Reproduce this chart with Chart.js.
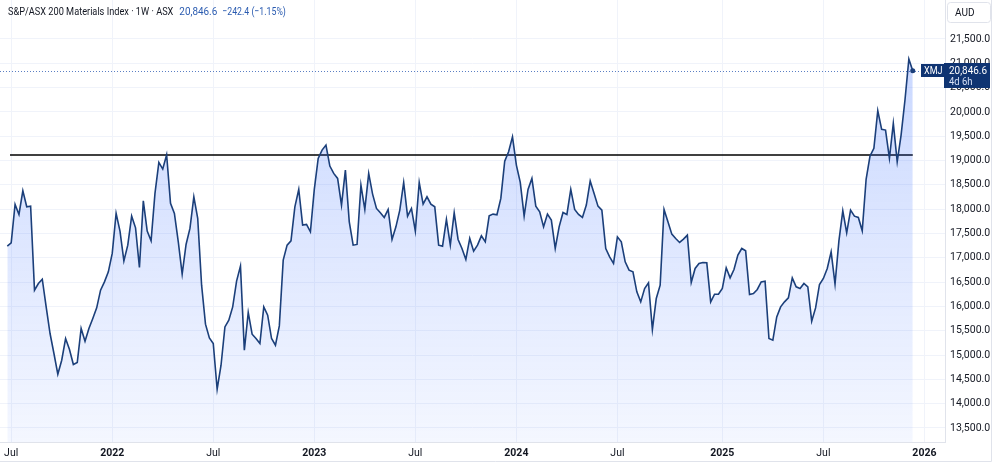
<!DOCTYPE html>
<html lang="en">

<head>
    <meta charset="UTF-8">
    <title>S&amp;P/ASX 200 Materials Index</title>
    <script src="https://cdn.jsdelivr.net/npm/chart.js@4.4.1/dist/chart.umd.min.js"></script>
    <style>
        body {
            margin: 0;
            background: #ffffff;
        }

        .chart-box {
            width: 1000px;
            height: 466px;
        }
    </style>
</head>

<body>
    <div class="chart-box">
        <canvas id="xmj-chart" width="1000" height="466"></canvas>
    </div>

    <script>
        // weekly closes, first week starts 2021-06-28
        const firstWeek = '2021-06-28';
        const closes = [
            17240, 17308, 18098, 17892, 18378, 18049, 18063, 16334, 16472, 16560,
            15990, 15443, 15032, 14606, 14894, 15340, 15114, 14805, 14846, 15546,
            15285, 15546, 15752, 15970, 16334, 16505, 16711, 17090, 17913, 17549,
            16937, 17260, 17857, 17617, 16801, 18172, 17549, 17349, 18324, 18962,
            18825, 19119, 18119, 17913, 17328, 16664, 17275, 17604, 18255, 17810,
            16437, 15635, 15353, 15237, 14297, 14791, 15579, 15717, 15991, 16520,
            16828, 15100, 15876, 15429, 15340, 15237, 15991, 15820, 15340, 15203,
            15600, 16952, 17260, 17349, 18049, 18407, 17672, 17686, 17535, 18407,
            19045, 19216, 19319, 18886, 18736, 18633, 18084, 18804, 17740, 17260,
            17275, 18495, 17995, 18736, 18310, 18015, 17926, 17830, 17995, 17377,
            17637, 17981, 18550, 17857, 18015, 17549, 18550, 18104, 18255, 18104,
            18049, 17260, 17240, 17789, 17260, 17926, 17377, 17192, 16966, 17398,
            17137, 17260, 17452, 17328, 17864, 17899, 17885, 18221, 18989, 19181,
            19489, 18907, 18551, 17857, 18407, 18633, 18063, 17946, 17637, 17899,
            17775, 17192, 17637, 17933, 17892, 18407, 17995, 17892, 17830, 18084,
            18578, 18324, 18063, 17981, 17192, 17020, 16884, 17431, 17328, 16917,
            16746, 16711, 16300, 16094, 16369, 16485, 15526, 16164, 16437, 17995,
            17740, 17487, 17398, 17316, 17384, 17466, 16493, 16781, 16884, 16904,
            16897, 16094, 16252, 16252, 16369, 16794, 16588, 16760, 17055, 17192,
            17144, 16246, 16266, 16349, 16505, 16520, 15340, 15305, 15785, 15991,
            16094, 16176, 16588, 16403, 16369, 16472, 16403, 15697, 15970, 16452,
            16575, 16781, 17123, 16458, 17349, 17967, 17515, 17981, 17857, 17830,
            17556, 18615, 19092, 19251, 20024, 19641, 19627, 19045, 19765, 18975,
            19524, 20245, 21088, 20846.6
        ];

        // x ticks: week index from firstWeek and label
        const xTickWeeks = [1, 27, 53, 79, 105, 131, 157, 184, 210, 236];
        const xTickLabels = ['Jul', '2022', 'Jul', '2023', 'Jul', '2024', 'Jul', '2025', 'Jul', '2026'];
        const yTicks = [13500, 14000, 14500, 15000, 15500, 16000, 16500, 17000, 17500,
            18000, 18500, 19000, 19500, 20000, 20500, 21000, 21500];

        // horizontal level drawn on the chart
        const levelValue = 19114;
        const levelFrom = 0.7;
        const levelTo = 233;

        const symbol = 'XMJ';
        const titleText = 'S&P/ASX 200 Materials Index · 1W · ASX';
        const lastText = '20,846.6';
        const changeText = '−242.4 (−1.15%)';
        const countdown = '4d 6h';
        const currency = 'AUD';

        const fontFamily = 'Roboto, "Noto Sans", sans-serif';
        const navy = '#0f3472';
        const lastIdx = closes.length - 1;

        const fmt = (v) => v.toLocaleString('en-US', { minimumFractionDigits: 1, maximumFractionDigits: 1 });

        // chart.js pads the area for half of the edge labels, TradingView does not
        const noPadding = (scale) => {
            scale.paddingTop = 0;
            scale.paddingBottom = 0;
            scale.paddingLeft = 0;
            scale.paddingRight = 0;
        };

        // text squeezed a bit to look like the narrow TradingView font
        const narrowText = (ctx, text, x, y, squeeze) => {
            ctx.save();
            ctx.translate(x, y);
            ctx.scale(squeeze, 1);
            ctx.fillText(text, 0, 0);
            ctx.restore();
            return ctx.measureText(text).width * squeeze;
        };

        // extra drawing: title, dotted last price line, labels
        const overlay = {
            id: 'overlay',
            beforeDatasetsDraw(chart) {
                const { ctx, chartArea, scales } = chart;
                const y = scales.y.getPixelForValue(closes[lastIdx]);
                ctx.save();
                ctx.strokeStyle = '#5b7fc4';
                ctx.lineWidth = 1;
                ctx.setLineDash([1, 2]);
                ctx.beginPath();
                ctx.moveTo(chartArea.left, Math.round(y) + 0.5);
                ctx.lineTo(chartArea.right - 24, Math.round(y) + 0.5);
                ctx.stroke();
                ctx.restore();
            },
            afterDraw(chart) {
                const { ctx, chartArea, scales } = chart;
                ctx.save();

                // outer frame
                ctx.strokeStyle = '#e0e3eb';
                ctx.lineWidth = 1;
                ctx.beginPath();
                ctx.moveTo(chart.width - 8.5, 0);
                ctx.lineTo(chart.width - 8.5, chart.height - 4.5);
                ctx.lineTo(0, chart.height - 4.5);
                ctx.stroke();

                // title
                ctx.textBaseline = 'middle';
                ctx.textAlign = 'left';
                ctx.font = '11.5px ' + fontFamily;
                ctx.fillStyle = '#131722';
                let x = 8 + narrowText(ctx, titleText, 8, 12, 0.8) + 6;
                ctx.fillStyle = '#2a5bb0';
                x += narrowText(ctx, lastText, x, 12, 0.86) + 5;
                narrowText(ctx, changeText, x, 12, 0.76);

                // currency box
                const ax = chartArea.right;
                ctx.fillStyle = '#ffffff';
                ctx.strokeStyle = '#e0e3eb';
                ctx.beginPath();
                ctx.roundRect(ax + 2.5, 2.5, 43, 20, 3);
                ctx.fill();
                ctx.stroke();
                ctx.fillStyle = '#131722';
                ctx.font = '10px ' + fontFamily;
                ctx.fillText(currency, ax + 10, 13);

                // last price labels
                const y = Math.round(scales.y.getPixelForValue(closes[lastIdx]));
                ctx.fillStyle = navy;
                ctx.fillRect(ax - 24, y - 7, 23, 13);
                ctx.fillRect(ax - 1, y - 8, 46, 25);
                ctx.fillStyle = '#ffffff';
                ctx.font = '10px ' + fontFamily;
                narrowText(ctx, symbol, ax - 21, y, 0.9);
                ctx.font = '11px ' + fontFamily;
                narrowText(ctx, lastText, ax + 4, y, 0.9);
                ctx.fillStyle = '#d6e0f5';
                ctx.font = '10.5px ' + fontFamily;
                narrowText(ctx, countdown, ax + 4, y + 11, 0.9);
                ctx.restore();
            }
        };

        const points = closes.map((v, i) => ({ x: i, y: v }));

        new Chart(document.getElementById('xmj-chart'), {
            type: 'line',
            data: {
                datasets: [
                    {
                        label: 'XMJ',
                        data: points,
                        order: 1,
                        borderColor: '#1b3f7a',
                        borderWidth: 1.6,
                        fill: 'start',
                        backgroundColor: (context) => {
                            const { ctx, chartArea } = context.chart;
                            if (!chartArea) {
                                return 'rgba(41, 98, 255, 0.15)';
                            }
                            const g = ctx.createLinearGradient(0, chartArea.top, 0, chartArea.bottom);
                            g.addColorStop(0, 'rgba(41, 98, 255, 0.28)');
                            g.addColorStop(1, 'rgba(41, 98, 255, 0.05)');
                            return g;
                        },
                        pointRadius: (c) => (c.dataIndex === lastIdx ? 2.5 : 0),
                        pointBackgroundColor: '#1b3f7a',
                        pointBorderWidth: 0,
                        tension: 0
                    },
                    {
                        label: 'Level',
                        data: [{ x: levelFrom, y: levelValue }, { x: levelTo, y: levelValue }],
                        order: 2,
                        borderColor: '#000000',
                        borderWidth: 1.6,
                        pointRadius: 0,
                        fill: false
                    }
                ]
            },
            options: {
                responsive: false,
                animation: false,
                layout: { autoPadding: false, padding: { right: 8, bottom: 4 } },
                plugins: {
                    legend: { display: false },
                    tooltip: { enabled: false }
                },
                scales: {
                    x: {
                        type: 'linear',
                        min: -1.88,
                        max: 241.3,
                        afterBuildTicks: (scale) => {
                            scale.ticks = xTickWeeks.map((w) => ({ value: w }));
                        },
                        afterFit: (scale) => {
                            scale.height = 20;
                            noPadding(scale);
                        },
                        grid: { color: '#f0f3fa', drawTicks: false },
                        border: { color: '#e0e3eb' },
                        ticks: {
                            autoSkip: false,
                            maxRotation: 0,
                            padding: 5,
                            color: '#131722',
                            font: (c) => {
                                const lab = xTickLabels[xTickWeeks.indexOf(c.tick ? c.tick.value : -1)] || '';
                                return { family: fontFamily, size: 10.5, weight: /^\d{4}$/.test(lab) ? 'bold' : 'normal' };
                            },
                            callback: (value) => xTickLabels[xTickWeeks.indexOf(value)] || ''
                        }
                    },
                    y: {
                        type: 'linear',
                        position: 'right',
                        min: 13212,
                        max: 22302,
                        afterBuildTicks: (scale) => {
                            scale.ticks = yTicks.map((v) => ({ value: v }));
                        },
                        afterFit: (scale) => {
                            scale.width = 47;
                            noPadding(scale);
                        },
                        grid: { color: '#f0f3fa', drawTicks: false },
                        border: { color: '#e0e3eb' },
                        ticks: {
                            padding: 5,
                            color: '#131722',
                            font: { family: fontFamily, size: 10.5 },
                            callback: (value) => fmt(value)
                        }
                    }
                }
            },
            plugins: [overlay]
        });
    </script>
</body>

</html>
